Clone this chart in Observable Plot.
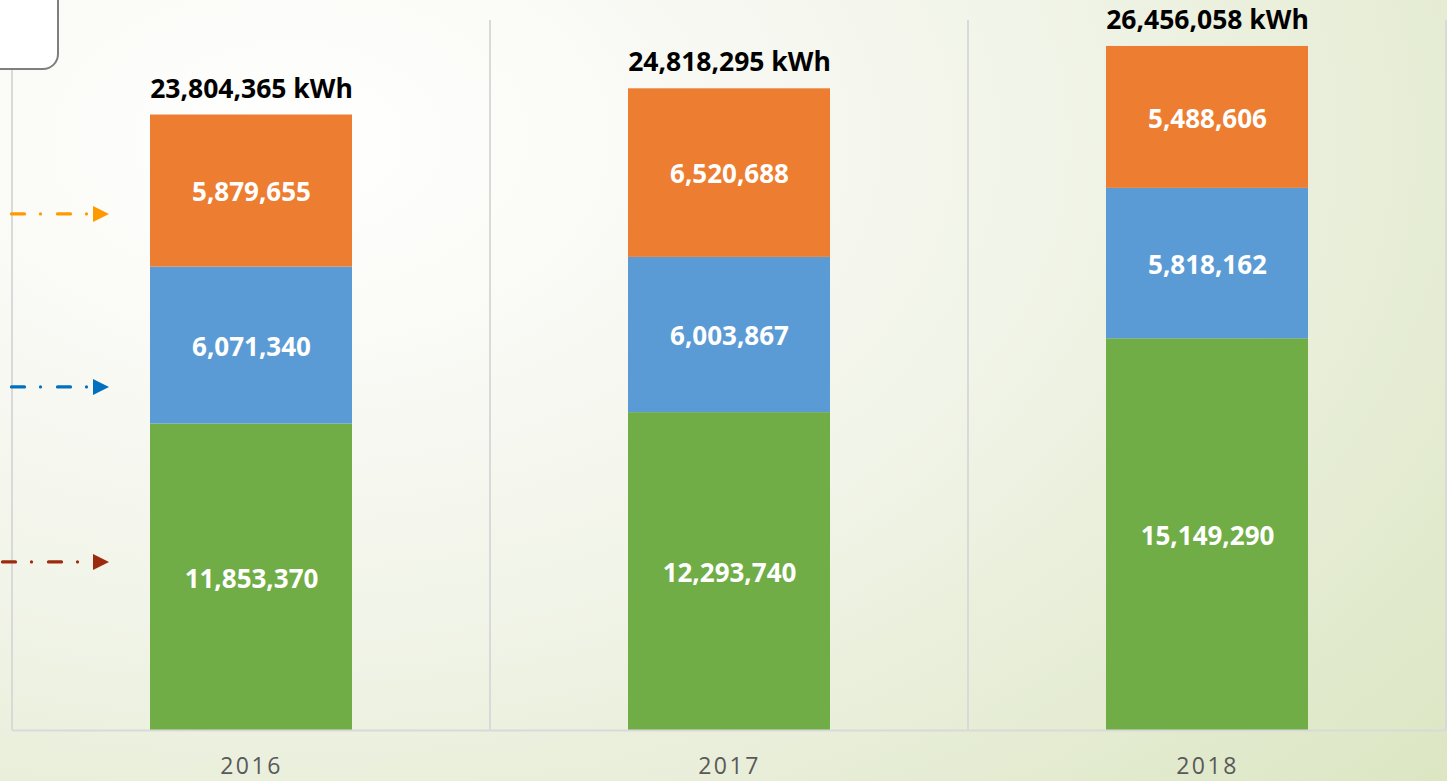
<!DOCTYPE html>
<html>
<head>
<meta charset="utf-8">
<script src="https://cdn.jsdelivr.net/npm/d3@7"></script>
<script src="https://cdn.jsdelivr.net/npm/@observablehq/plot@0.6"></script>
<style>
  html, body { margin: 0; padding: 0; width: 1447px; height: 781px; overflow: hidden; }
  body {
    background: radial-gradient(ellipse 105% 125% at 20% 18%, #ffffff 0%, #fafaf6 22%, #f1f4e8 50%, #e5ecd3 78%, #dce6c3 100%);
    font-family: "Open Sans", sans-serif;
    position: relative;
  }
  #chart { position: absolute; left: 0; top: 0; }
  #box {
    position: absolute; left: -20px; top: -20px; width: 75px; height: 86px;
    border: 2px solid #7f7f7f; border-radius: 16px; background: #ffffff;
  }
</style>
</head>
<body>
<div id="chart"></div>
<div id="box"></div>
<script>
// ---- data ----
const years = ["2016", "2017", "2018"];
const seriesNames = ["Series 1", "Series 2", "Series 3"]; // bottom -> top
const series1Values = [11853370, 12293740, 15149290];
const series2Values = [6071340, 6003867, 5818162];
const series3Values = [5879655, 6520688, 5488606];
const totals = [23804365, 24818295, 26456058];
const yMax = 27460000;
const arrowLevels = [19960000, 13270000, 6500000]; // annotation arrows (kWh level)

// ---- styles ----
const seriesColors = ["#70ad47", "#5b9bd5", "#ed7d31"];
const arrowColors = ["#ff9900", "#0070c0", "#9c2a0e"];

const rows = [];
years.forEach((yr, i) => {
  [series1Values, series2Values, series3Values].forEach((vals, s) => {
    rows.push({year: yr, series: seriesNames[s], value: vals[i]});
  });
});
const totalRows = years.map((yr, i) => ({year: yr, total: totals[i]}));
const fmt = d3.format(",");

const plot = Plot.plot({
  width: 1447,
  height: 781,
  marginTop: 20,
  marginBottom: 51,
  marginLeft: 12,
  marginRight: 1,
  style: {background: "transparent", fontFamily: "Open Sans, sans-serif"},
  x: {domain: years, paddingInner: 0.577, paddingOuter: 0.2885, align: 0.5, label: null},
  y: {domain: [0, yMax], axis: null},
  color: {domain: seriesNames, range: seriesColors},
  marks: [
    Plot.barY(rows, {x: "year", y: "value", z: "series", fill: "series"}),
    Plot.ruleY([0], {stroke: "#d9d9d9", strokeWidth: 2}),
    Plot.text(rows, Plot.stackY({
      x: "year", y: "value", z: "series",
      text: d => fmt(d.value),
      dy: 2,
      fill: "white", fontWeight: "bold", fontSize: 26
    })),
    Plot.text(totalRows, {
      x: "year", y: "total", text: d => fmt(d.total) + " kWh",
      dy: -26, fill: "black", fontWeight: "bold", fontSize: 26.5
    }),
    Plot.axisX({tickSize: 0, tickPadding: 27, fontSize: 23, fill: "#595959", label: null})
  ]
});

document.getElementById("chart").appendChild(plot);

// vertical separators between categories (from the band scale)
const sx = plot.scale("x");
const sy = plot.scale("y");
const half = (sx.step - sx.bandwidth) / 2;
const bounds = years.map(y => sx.apply(y) - half).concat([sx.apply(years[years.length - 1]) + sx.bandwidth + half]);
const svg = d3.select(plot);
svg.selectAll("g[aria-label='x-axis tick label'] text, g[aria-label='x-axis tick label']").attr("letter-spacing", "2.5px");
const grid = svg.insert("g", ":first-child");
grid.selectAll("line").data(bounds).join("line")
  .attr("x1", d => d).attr("x2", d => d)
  .attr("y1", sy.apply(yMax)).attr("y2", sy.apply(0))
  .attr("stroke", "#d9d9d9").attr("stroke-width", 2);

// annotation arrows at the left
const arrowStart = [11.5, 11.5, 2.5];
const arr = svg.append("g");
arrowLevels.forEach((lv, i) => {
  const yy = sy.apply(lv);
  arr.append("line")
    .attr("x1", arrowStart[i]).attr("x2", 90).attr("y1", yy).attr("y2", yy)
    .attr("stroke", arrowColors[i]).attr("stroke-width", 3.2)
    .attr("stroke-linecap", "round")
    .attr("stroke-dasharray", "13,16,0,17");
  arr.append("path")
    .attr("d", `M93,${yy - 8}L109,${yy}L93,${yy + 8}Z`)
    .attr("fill", arrowColors[i]);
});
</script>
</body>
</html>
